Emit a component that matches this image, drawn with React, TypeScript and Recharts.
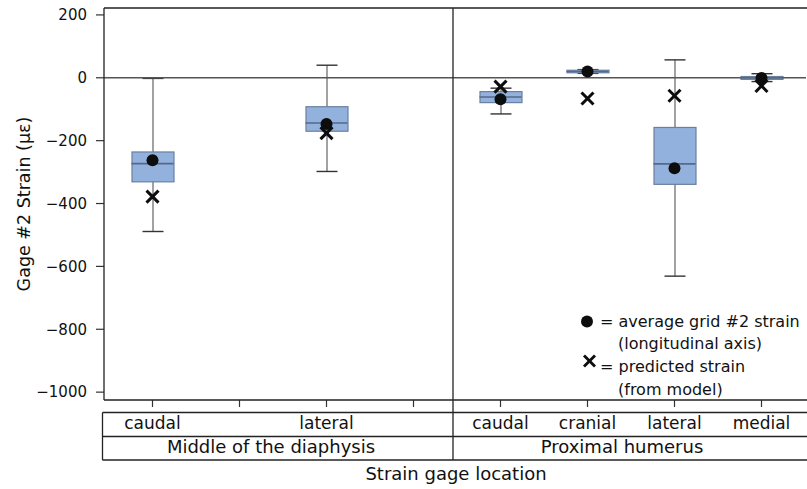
import React from 'react';
import { ComposedChart, Bar, Scatter, XAxis, YAxis, ReferenceLine } from 'recharts';

const categories = ['m-caudal', 'm-cranial', 'm-lateral', 'm-medial', 'p-caudal', 'p-cranial', 'p-lateral', 'p-medial'];
const tickLabels = ['caudal', '', 'lateral', '', 'caudal', 'cranial', 'lateral', 'medial'];
const groupLabels = ['Middle of the diaphysis', 'Proximal humerus'];
const whiskerLow = [-489, null, -298, null, -115, 14, -631, -12];
const whiskerHigh = [-2, null, 40, null, -33, 26, 57, 13];
const q1 = [-331, null, -170, null, -79, 16, -339, -5];
const q3 = [-236, null, -92, null, -44, 24, -158, 4];
const median = [-273, null, -144, null, -61, 20, -274, 0];
const meanStrain = [-262, null, -147, null, -68, 20, -288, -1];
const predStrain = [-378, null, -176, null, -28, -66, -57, -26];
const yTicks = [-1000, -800, -600, -400, -200, 0, 200];

const data = categories.map((cat, i) => ({
  cat,
  label: tickLabels[i],
  whisker: whiskerLow[i] == null ? null : [whiskerLow[i], whiskerHigh[i]],
  box: q1[i] == null ? null : [q1[i], q3[i]],
  median: median[i],
  mean: meanStrain[i],
  pred: predStrain[i],
}));

const FONT = '"DejaVu Sans", "Liberation Sans", Arial, sans-serif';
const BOX_W = 42;

const WhiskerShape = (props: any) => {
  const { x, y, width, height } = props;
  if (x == null || y == null || height == null || isNaN(y)) return <g />;
  const cx = x + width / 2;
  const top = Math.min(y, y + height);
  const bot = Math.max(y, y + height);
  const ch = 10.5;
  return (
    <g>
      <line x1={cx} x2={cx} y1={top} y2={bot} stroke="#555" strokeWidth={1.1} />
      <line x1={cx - ch} x2={cx + ch} y1={top} y2={top} stroke="#333" strokeWidth={1.4} />
      <line x1={cx - ch} x2={cx + ch} y1={bot} y2={bot} stroke="#333" strokeWidth={1.4} />
    </g>
  );
};

const BoxShape = (props: any) => {
  const { x, y, width, height } = props;
  if (x == null || y == null || height == null || isNaN(y)) return <g />;
  const top = Math.min(y, y + height);
  const h = Math.max(Math.abs(height), 1.5);
  return <rect x={x} y={top} width={width} height={h} fill="#93b1dd" stroke="#6b7f9f" strokeWidth={1.2} />;
};

const MedianShape = (props: any) => {
  const { cx, cy, payload } = props;
  if (payload == null || payload.median == null || cx == null || cy == null) return <g />;
  return <line x1={cx - BOX_W / 2} x2={cx + BOX_W / 2} y1={cy} y2={cy} stroke="#55698a" strokeWidth={1.6} />;
};

const DotShape = (props: any) => {
  const { cx, cy, payload } = props;
  if (payload == null || payload.mean == null || cx == null || cy == null) return <g />;
  return <circle cx={cx} cy={cy} r={6} fill="#0d0d0d" />;
};

const CrossShape = (props: any) => {
  const { cx, cy, payload } = props;
  if (payload == null || payload.pred == null || cx == null || cy == null) return <g />;
  const s = 6;
  return (
    <g stroke="#0d0d0d" strokeWidth={3}>
      <line x1={cx - s} y1={cy - s} x2={cx + s} y2={cy + s} />
      <line x1={cx - s} y1={cy + s} x2={cx + s} y2={cy - s} />
    </g>
  );
};

const XTick = (props: any) => {
  const { x, y, payload } = props;
  const idx = categories.indexOf(payload.value);
  const label = idx >= 0 ? tickLabels[idx] : '';
  return (
    <text x={x} y={y} dy={20} textAnchor="middle" fontFamily={FONT} fontSize={17} fill="#111">
      {label}
    </text>
  );
};

const fmtY = (v: number) => (v < 0 ? '\u2212' + Math.abs(v) : String(v));

export default function App() {
  return (
    <div style={{ position: 'absolute', left: 0, top: 0, width: 807, height: 489, background: '#fff', overflow: 'hidden' }}>
      <ComposedChart width={807} height={489} data={data} margin={{ top: 8, right: 1, left: 0, bottom: 59 }}>
        <XAxis
          dataKey="cat"
          type="category"
          padding={{ left: 5, right: 1 }}
          height={30}
          axisLine={false}
          tickLine={{ stroke: '#333', strokeWidth: 1.2 }}
          tickSize={7}
          tick={<XTick />}
          interval={0}
        />
        <XAxis xAxisId="w" dataKey="cat" type="category" padding={{ left: 5, right: 1 }} hide />
        <XAxis xAxisId="b" dataKey="cat" type="category" padding={{ left: 5, right: 1 }} hide />
        <YAxis
          type="number"
          domain={[-1025, 222]}
          allowDataOverflow
          ticks={yTicks}
          width={104}
          axisLine={false}
          tickLine={{ stroke: '#333', strokeWidth: 1.2 }}
          tickSize={8}
          tickMargin={9}
          tickFormatter={fmtY}
          tick={{ fontFamily: FONT, fontSize: 15, fill: '#111' }}
        />
        <ReferenceLine y={0} stroke="#555" strokeWidth={1.4} ifOverflow="extendDomain" />
        <Bar xAxisId="w" dataKey="whisker" barSize={BOX_W} shape={<WhiskerShape />} isAnimationActive={false} />
        <Bar xAxisId="b" dataKey="box" barSize={BOX_W} shape={<BoxShape />} isAnimationActive={false} />
        <Scatter dataKey="median" shape={<MedianShape />} isAnimationActive={false} />
        <Scatter dataKey="mean" shape={<DotShape />} isAnimationActive={false} />
        <Scatter dataKey="pred" shape={<CrossShape />} isAnimationActive={false} />
      </ComposedChart>
      <svg width={807} height={489} style={{ position: 'absolute', left: 0, top: 0, pointerEvents: 'none' }}>
        <g stroke="#222" strokeWidth={1.3} fill="none">
          <line x1={104} y1={8} x2={810} y2={8} />
          <line x1={104} y1={8} x2={104} y2={400} />
          <line x1={104} y1={400} x2={810} y2={400} />
          <line x1={453} y1={8} x2={453} y2={460} />
          <line x1={102.5} y1={412.5} x2={810} y2={412.5} />
          <line x1={102.5} y1={436.5} x2={810} y2={436.5} />
          <line x1={102.5} y1={460} x2={810} y2={460} />
          <line x1={102.5} y1={412.5} x2={102.5} y2={460} />
        </g>
        <text x={271} y={453} textAnchor="middle" fontFamily={FONT} fontSize={18} fill="#111">{groupLabels[0]}</text>
        <text x={622} y={453} textAnchor="middle" fontFamily={FONT} fontSize={18} fill="#111">{groupLabels[1]}</text>
        <text x={456} y={480} textAnchor="middle" fontFamily={FONT} fontSize={18} fill="#111">Strain gage location</text>
        <text transform="translate(30,204) rotate(-90)" textAnchor="middle" fontFamily={FONT} fontSize={17.5} fill="#111">Gage #2 Strain (με)</text>
        <circle cx={587} cy={321.5} r={6} fill="#0d0d0d" />
        <text x={600} y={327} fontFamily={FONT} fontSize={16} fill="#111">= average grid #2 strain</text>
        <text x={618} y={349} fontFamily={FONT} fontSize={16} fill="#111">(longitudinal axis)</text>
        <g stroke="#0d0d0d" strokeWidth={2.8}>
          <line x1={584} y1={355.5} x2={595} y2={366.5} />
          <line x1={584} y1={366.5} x2={595} y2={355.5} />
        </g>
        <text x={600} y={372} fontFamily={FONT} fontSize={16} fill="#111">= predicted strain</text>
        <text x={618} y={395} fontFamily={FONT} fontSize={16} fill="#111">(from model)</text>
      </svg>
    </div>
  );
}
